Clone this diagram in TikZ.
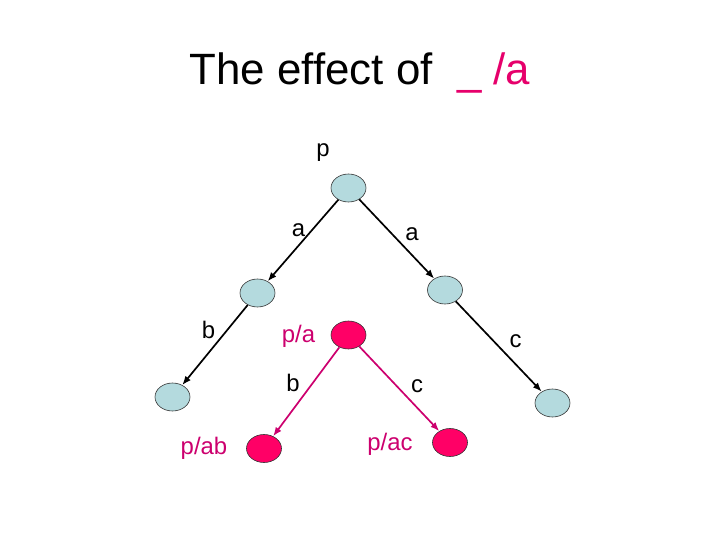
\documentclass[tikz,border=0pt]{standalone}
\usepackage{fontspec}
\setmainfont{Liberation Sans}
\usetikzlibrary{shapes.geometric, arrows.meta}
\definecolor{stateblue}{RGB}{180,218,222}
\definecolor{statepink}{RGB}{255,0,102}
\definecolor{labelpink}{RGB}{204,0,110}
\definecolor{titlepink}{RGB}{230,0,107}
\tikzset{
	state/.style = {ellipse, draw = black!80, line width = 0.6pt, fill = stateblue, minimum width = 35bp, minimum height = 28bp, inner sep = 0pt},
	hitstate/.style = {state, fill = statepink},
	lbl/.style = {font = \fontsize{24}{28}\selectfont, inner sep = 0pt},
	edge/.style = {-{Latex[length = 9bp, width = 7bp]}, line width = 1.7bp}
}
\begin{document}
\begin{tikzpicture} [x = 1bp, y = -1bp]
	\useasboundingbox (0,0) rectangle (720,540);
	\node [anchor = base, inner sep = 0pt, font = \fontsize{44}{50}\selectfont] (title) at (360,85) {The effect of~~\textcolor{titlepink}{\_ /a}};
	% the automaton
	\node [state] (root) at (348.5,188) {};
	\node [state] (qa) at (257.5,293) {};
	\node [state] (ra) at (445,290) {};
	\node [state] (qab) at (172.5,397) {};
	\node [state] (rac) at (552.5,403) {};
	\node [hitstate] (pa) at (348.5,335) {};
	\node [hitstate] (pab) at (264,448.5) {};
	\node [hitstate] (pac) at (450,442.5) {};
	\draw [edge] (root) -- (qa);
	\draw [edge] (root) -- (ra);
	\draw [edge] (qa) -- (qab);
	\draw [edge] (ra) -- (rac);
	\draw [edge, labelpink] (pa) -- (pab);
	\draw [edge, labelpink] (pa) -- (pac);
	% labels
	\node [lbl] (lp) at (323,152.5) {p};
	\node [lbl] (la1) at (298.5,230.5) {a};
	\node [lbl] (la2) at (412,234) {a};
	\node [lbl] (lb1) at (208.5,330) {b};
	\node [lbl] (lc1) at (515.5,341.5) {c};
	\node [lbl] (lb2) at (293,382.5) {b};
	\node [lbl] (lc2) at (417,386.5) {c};
	\node [lbl, labelpink] (lpa) at (298.5,336.5) {p/a};
	\node [lbl, labelpink] (lpab) at (204,448.5) {p/ab};
	\node [lbl, labelpink] (lpac) at (390,444) {p/ac};
\end{tikzpicture}
\end{document}
